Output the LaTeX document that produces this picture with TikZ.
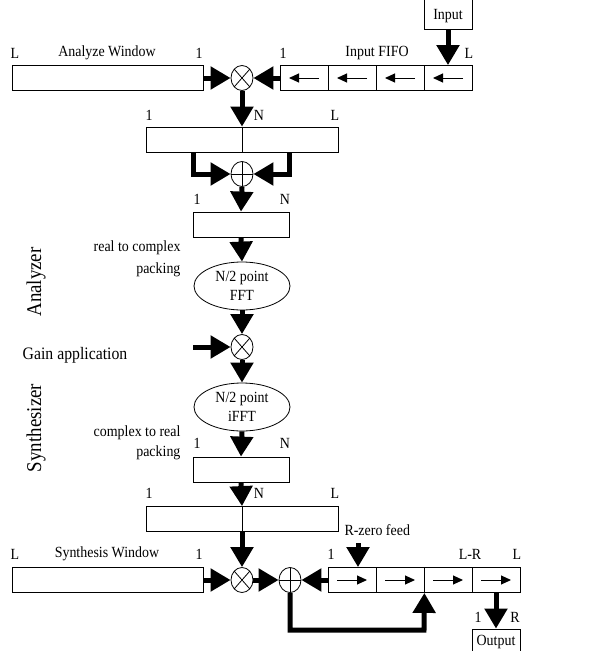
\documentclass[tikz,border=0pt]{standalone}
\usepackage{fontspec}
\setmainfont{Liberation Serif}[FakeStretch=0.9]
\usetikzlibrary{arrows.meta,shapes.geometric,positioning}
\tikzset{
  box/.style={draw,line width=0.8pt,minimum height=25pt,inner sep=0pt},
  cell/.style={box,minimum width=48pt},
  fatarrow/.style={line width=5pt,-{Triangle[length=20pt,width=22pt]}},
  thinarrow/.style={line width=1pt,-{Triangle[length=10pt,width=9pt]}},
  op/.style={draw,ellipse,line width=0.8pt,minimum width=22pt,minimum height=25pt,inner sep=0pt,fill=white},
  mult/.style={op,path picture={\draw[line width=0.8pt] (path picture bounding box.north west) -- (path picture bounding box.south east) (path picture bounding box.north east) -- (path picture bounding box.south west);}},
  plus/.style={op,path picture={\draw[line width=0.8pt] (path picture bounding box.north) -- (path picture bounding box.south) (path picture bounding box.west) -- (path picture bounding box.east);}},
  fft/.style={draw,ellipse,line width=0.8pt,minimum width=96pt,minimum height=48pt,inner sep=0pt,align=center,font=\fontsize{15.5}{19}\selectfont},
  side/.style={rotate=90,font=\fontsize{21}{23}\selectfont}
}

\begin{document}
\begin{tikzpicture}[x=1pt,y=-1pt,font=\fontsize{15.5}{17}\selectfont]
\useasboundingbox (0,0) rectangle (602,651);
\clip (0,0) rectangle (602,651);

\node[box,minimum width=191pt] (awin) at (107.5,78) {};
\node[mult] (mult1) at (242,78) {};
\foreach \i/\x in {1/304,2/352,3/400,4/448} {
  \node[cell] (fifo\i) at (\x,78) {};
  \draw[thinarrow] ([xshift=15pt]fifo\i.center) -- ([xshift=-15pt]fifo\i.center);
}
\node[box,minimum width=48pt,minimum height=36pt] (inbox) at (448,11) {};
\node[above=3pt of inbox.south] (intxt) {Input};
\node (awinL) at (15,53) {L};
\node (awintxt) at (107,53) {Analyze Window};
\node (awin1) at (199,53) {1};
\node (fifo1txt) at (283,53) {1};
\node (fifotxt) at (377,53) {Input FIFO};
\node (fifoL) at (469,53) {L};

\node[box,minimum width=192pt] (buf1) at (242,139.5) {};
\draw[line width=0.8pt] (buf1.north) -- (buf1.south);
\node (buf1a) at (149,115) {1};
\node (buf1b) at (259,115) {N};
\node (buf1c) at (335,115) {L};
\node[plus] (plus1) at (242,174) {};
\node[box,minimum width=96pt] (buf2) at (241,224.5) {};
\node (buf2a) at (197,199) {1};
\node (buf2b) at (285,199) {N};
\node[fft] (fft) at (242,286) {N/2 point\\FFT};
\node[anchor=east,align=right,font=\fontsize{15.5}{22}\selectfont] (pack1) at (184,259) {real to complex\\packing};
\node[mult] (mult2) at (242,347) {};
\coordinate (gainin) at (193,347);
\node[font=\fontsize{17.5}{19}\selectfont] (gaintxt) at (75,355) {Gain application};
\node[fft] (ifft) at (242,407) {N/2 point\\iFFT};
\node[anchor=east,align=right,font=\fontsize{15.5}{20}\selectfont] (pack2) at (184,443) {complex to real\\packing};
\node[box,minimum width=96pt] (buf3) at (241,469.5) {};
\node (buf3a) at (197,443) {1};
\node (buf3b) at (285,443) {N};
\node[box,minimum width=192pt] (buf4) at (242,519) {};
\draw[line width=0.8pt] (buf4.north) -- (buf4.south);
\node (buf4a) at (149,493) {1};
\node (buf4b) at (259,493) {N};
\node (buf4c) at (335,493) {L};
\node[side] (anatxt) at (36,282) {Analyzer};
\node[side] (syntxt) at (36,428) {Synthesizer};

\node[box,minimum width=191pt] (swin) at (107.5,580) {};
\node[mult] (mult3) at (242,580) {};
\node[plus] (plus2) at (290,580) {};
\foreach \i/\x in {1/352,2/400,3/448,4/496} {
  \node[cell] (reg\i) at (\x,580) {};
  \draw[thinarrow] ([xshift=-15pt]reg\i.center) -- ([xshift=15pt]reg\i.center);
}
\node (swinL) at (15,554) {L};
\node (swintxt) at (107,554) {Synthesis Window};
\node (swin1) at (199,554) {1};
\node (reg1txt) at (331,554) {1};
\node (regLR) at (470,554) {L-R};
\node (regL) at (517,554) {L};
\node[anchor=west] (zerotxt) at (341,530) {R-zero feed};
\coordinate (zfeed) at (358,543);
\coordinate (fbk) at (424,630);
\node[box,minimum width=48pt,minimum height=26pt] (outbox) at (496,642) {Output};
\node (out1) at (478,617) {1};
\node (outR) at (515,617) {R};

\draw[fatarrow] (awin.east) -- (mult1.west);
\draw[fatarrow] (fifo1.west) -- (mult1.east);
\draw[fatarrow] (inbox.south) -- (fifo4.north);
\draw[fatarrow] (mult1.south) -- (buf1.north);
\draw[fatarrow] ([xshift=-49pt]buf1.south) |- (plus1.west);
\draw[fatarrow] ([xshift=47pt]buf1.south) |- (plus1.east);
\draw[fatarrow] (plus1.south) -- (buf2.north);
\draw[fatarrow] (buf2.south) -- (fft.north);
\draw[fatarrow] (fft.south) -- (mult2.north);
\draw[fatarrow] (gainin) -- (mult2.west);
\draw[fatarrow] (mult2.south) -- (ifft.north);
\draw[fatarrow] (ifft.south) -- (buf3.north);
\draw[fatarrow] (buf3.south) -- (buf4.north);
\draw[fatarrow] (buf4.south) -- (mult3.north);
\draw[fatarrow] (swin.east) -- (mult3.west);
\draw[fatarrow] (mult3.east) -- (plus2.west);
\draw[fatarrow] (reg1.west) -- (plus2.east);
\draw[fatarrow] (zfeed) -- (zfeed |- reg1.north);
\draw[fatarrow] (plus2.south) |- (fbk) -- (reg2.south east);
\draw[fatarrow] (reg4.south) -- (outbox.north);
\end{tikzpicture}
\end{document}
